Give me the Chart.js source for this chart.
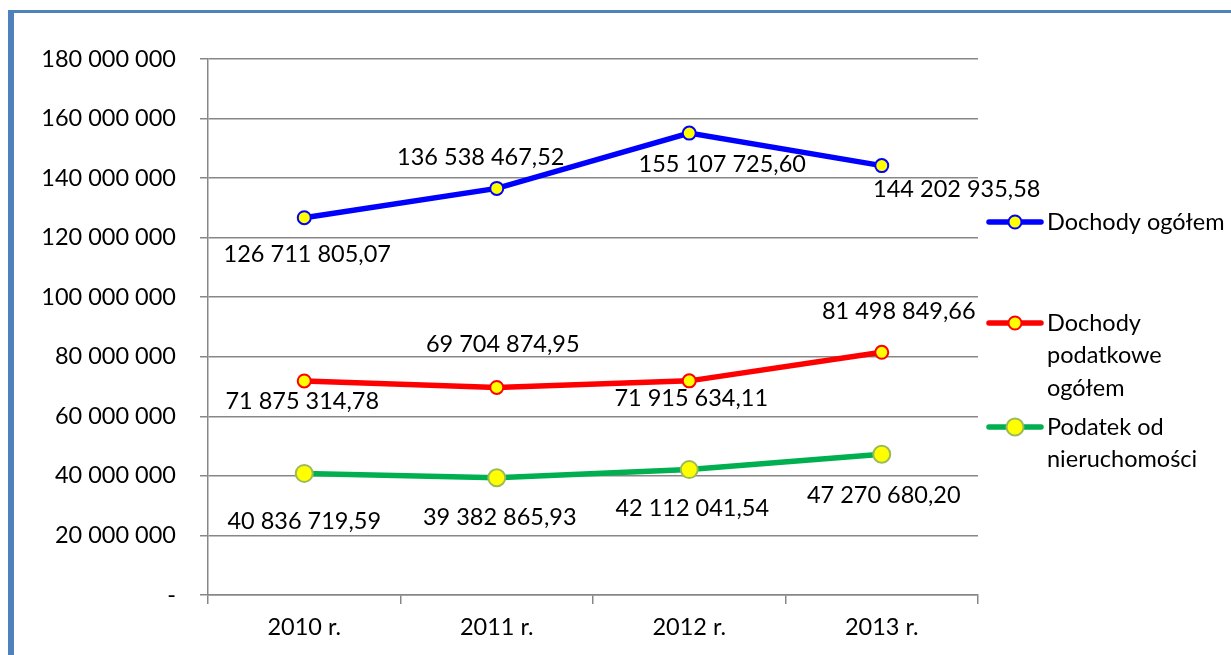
<!DOCTYPE html>
<html>
<head>
<meta charset="utf-8">
<script src="https://cdn.jsdelivr.net/npm/chart.js@4"></script>
<style>
  body { margin: 0; background: #fff; }
  canvas { display: block; }
</style>
</head>
<body>
<canvas id="incomeChart" width="1231" height="655"></canvas>
<script>
// data
var years = ["2010 r.", "2011 r.", "2012 r.", "2013 r."];
var totalIncome = [126711805.07, 136538467.52, 155107725.60, 144202935.58];
var taxIncome = [71875314.78, 69704874.95, 71915634.11, 81498849.66];
var propertyTax = [40836719.59, 39382865.93, 42112041.54, 47270680.20];
var seriesNames = [["Dochody ogółem"], ["Dochody", "podatkowe", "ogółem"], ["Podatek od", "nieruchomości"]];
var yTicks = [0, 20000000, 40000000, 60000000, 80000000, 100000000, 120000000, 140000000, 160000000, 180000000];

var FONT = "Lato, 'Open Sans', sans-serif";
var FSIZE = 23.5;
var GRID = '#878787';

// label offsets from point (dx, dy) - placed by hand like the original
var labelOffsets = [
  [[3, 37], [-16, -31], [33, 31], [75, 24]],
  [[-2, 20], [6, -43], [2, 18], [17, -41]],
  [[0, 48], [3, 40], [3, 39], [2, 41]]
];
var legendY = [222, 323, 427];

function spaced(s) {
  return s.replace(/\B(?=(\d{3})+(?!\d))/g, ' ');
}
function fmtValue(v) {
  var parts = v.toFixed(2).split('.');
  return spaced(parts[0]) + ',' + parts[1];
}

var framePlugin = {
  id: 'frame',
  beforeDraw: function(chart) {
    var c = chart.ctx;
    c.save();
    c.fillStyle = '#fff';
    c.fillRect(0, 0, chart.width, chart.height);
    c.fillStyle = '#4F81BD';
    c.fillRect(8, 10, chart.width - 8, 3);
    c.fillRect(8, 10, 6, chart.height - 10);
    c.restore();
  }
};

var labelsPlugin = {
  id: 'valueLabels',
  afterDatasetsDraw: function(chart) {
    var c = chart.ctx;
    c.save();
    c.font = FSIZE + 'px ' + FONT;
    c.fillStyle = '#000';
    c.textAlign = 'center';
    c.textBaseline = 'middle';
    chart.data.datasets.forEach(function(ds, i) {
      chart.getDatasetMeta(i).data.forEach(function(pt, j) {
        var off = labelOffsets[i][j];
        c.fillText(fmtValue(ds.data[j]), pt.x + off[0], pt.y + off[1]);
      });
    });
    c.restore();
  }
};

var legendPlugin = {
  id: 'sideLegend',
  afterDraw: function(chart) {
    var c = chart.ctx;
    c.save();
    chart.data.datasets.forEach(function(ds, i) {
      var y = legendY[i];
      c.strokeStyle = ds.borderColor;
      c.lineWidth = 5.5;
      c.lineCap = 'round';
      c.beginPath();
      c.moveTo(989, y);
      c.lineTo(1041, y);
      c.stroke();
      c.beginPath();
      c.arc(1015, y, ds.pointRadius, 0, Math.PI * 2);
      c.fillStyle = ds.pointBackgroundColor;
      c.fill();
      c.lineWidth = ds.pointBorderWidth;
      c.strokeStyle = ds.pointBorderColor;
      c.stroke();
      c.fillStyle = '#000';
      c.font = FSIZE + 'px ' + FONT;
      c.textAlign = 'left';
      c.textBaseline = 'middle';
      seriesNames[i].forEach(function(line, k) {
        c.fillText(line, 1047, y + k * 32.5);
      });
    });
    c.restore();
  }
};

function lineSet(name, data, color, pointBorder, radius) {
  return {
    label: name.join(' '),
    data: data,
    borderColor: color,
    backgroundColor: color,
    borderWidth: 5.5,
    tension: 0,
    pointRadius: radius,
    pointBackgroundColor: '#FFFF00',
    pointBorderColor: pointBorder,
    pointBorderWidth: 2
  };
}

var ctx = document.getElementById('incomeChart').getContext('2d');
var chart = new Chart(ctx, {
  type: 'line',
  data: {
    labels: years,
    datasets: [
      lineSet(seriesNames[0], totalIncome, '#0000FF', '#0000FF', 6.5),
      lineSet(seriesNames[1], taxIncome, '#FF0000', '#FF0000', 6.5),
      lineSet(seriesNames[2], propertyTax, '#00B050', '#9BBB59', 8.5)
    ]
  },
  options: {
    responsive: false,
    animation: false,
    layout: { padding: { left: 0, right: 253, top: 59, bottom: 0 } },
    plugins: {
      legend: { display: false },
      tooltip: { enabled: false }
    },
    scales: {
      x: {
        offset: true,
        grid: { offset: true, drawOnChartArea: false, drawTicks: true, tickLength: 9, color: GRID, lineWidth: 1.5 },
        border: { color: GRID, width: 1.5 },
        ticks: { color: '#000', font: { family: FONT, size: FSIZE }, padding: 9 },
        afterFit: function(s) { s.height = 655 - 595; }
      },
      y: {
        min: 0,
        max: 180000000,
        afterBuildTicks: function(s) { s.ticks = yTicks.map(function(v) { return { value: v }; }); },
        grid: { color: GRID, lineWidth: 1.5, tickLength: 8 },
        border: { color: GRID, width: 1.5 },
        ticks: {
          color: '#000',
          font: { family: FONT, size: FSIZE },
          padding: 24,
          callback: function(v) { return v === 0 ? '-' : spaced(String(v)); }
        },
        afterFit: function(s) { s.width = 208; }
      }
    }
  },
  plugins: [framePlugin, labelsPlugin, legendPlugin]
});
</script>
</body>
</html>
